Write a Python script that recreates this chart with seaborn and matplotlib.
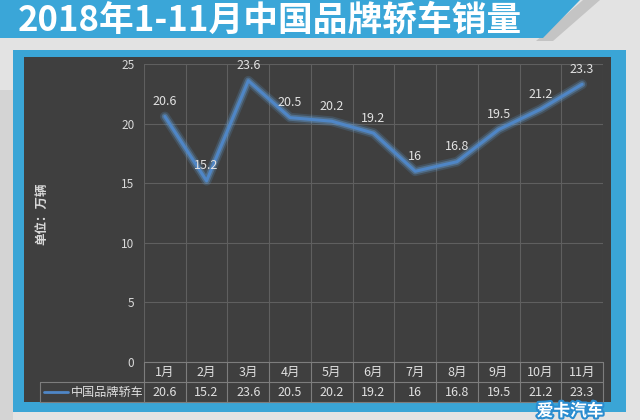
import numpy as np
import pandas as pd
import matplotlib
matplotlib.use("Agg")
import matplotlib.pyplot as plt
import seaborn as sns
from matplotlib.patches import Polygon, Rectangle
from matplotlib.lines import Line2D
import matplotlib.patheffects as pe
import matplotlib.transforms as mtransforms

# ---- data ----
months = ["1月", "2月", "3月", "4月", "5月", "6月", "7月", "8月", "9月", "10月", "11月"]
sales = [20.6, 15.2, 23.6, 20.5, 20.2, 19.2, 16, 16.8, 19.5, 21.2, 23.3]
series_name = "中国品牌轿车"
title = "2018年1-11月中国品牌轿车销量"
ylabel = "单位：万辆"
yticks = [0, 5, 10, 15, 20, 25]
watermark = "爱卡汽车"

sns.set_style("dark")
plt.rcParams['font.family'] = ['Noto Sans CJK SC', 'DejaVu Sans']

W, H = 640, 420
fig = plt.figure(figsize=(6.4, 4.2), dpi=100)
fig.patch.set_facecolor('#e3e3e3')

def fx(x):
    return x / W

def fy(y):
    return 1 - y / H

def rect(x0, y0, x1, y1, color, z, **kw):
    fig.patches.append(Rectangle((fx(x0), fy(y1)), fx(x1) - fx(x0), fy(y0) - fy(y1),
                                 transform=fig.transFigure, facecolor=color,
                                 edgecolor='none', zorder=z, **kw))

def poly(pts, color, z):
    fig.patches.append(Polygon([(fx(x), fy(y)) for x, y in pts], closed=True,
                               transform=fig.transFigure, facecolor=color,
                               edgecolor='none', zorder=z))

# background pieces
rect(0, 90, 13, 420, '#d4d4d4', -10, hatch='////')
# banner shadow + banner
poly([(583, 0), (600, 0), (553, 41), (536, 41)], '#c4c4c4', -9)
poly([(0, 0), (580, 0), (543, 38), (0, 38)], '#3aa6d8', -8)
# blue frame and dark area
rect(13, 50, 626, 412, '#3aa5d6', -7)
rect(24, 57, 611, 402, '#3f3f3f', -6)

fig.text(fx(18), fy(31), title, fontsize=25, fontweight='bold', color='white',
         ha='left', va='baseline')

# ---- axes ----
ax = fig.add_axes([fx(144), fy(362), fx(603) - fx(144), fy(64) - fy(362)])
ax.set_facecolor('#3f3f3f')
for s in ax.spines.values():
    s.set_visible(False)

df = pd.DataFrame({"pos": np.arange(len(months)), "sales": sales})
sns.lineplot(data=df, x="pos", y="sales", ax=ax, color='#4f86c6', linewidth=2.2,
             path_effects=[pe.Stroke(linewidth=7, foreground='#5b9bd5', alpha=0.2),
                           pe.Stroke(linewidth=4.5, foreground='#6aa6e0', alpha=0.35),
                           pe.Normal()])

for i, v in enumerate(sales):
    ax.annotate(f"{v:g}", (i, v), xytext=(0, 6), textcoords='offset points',
                ha='center', va='bottom', color='#e2e2e2', fontsize=9)

ax.set_xlim(-0.5, len(months) - 0.5)
ax.set_ylim(0, 25)
ax.set_yticks(yticks)
ax.set_xticks([])
ax.set_xticks(np.arange(-0.5, len(months), 1), minor=True)
ax.tick_params(axis='y', colors='#d9d9d9', labelsize=8.5, length=0, pad=7)
ax.tick_params(axis='x', which='both', length=0, labelbottom=False)
ax.grid(True, axis='y', which='major', color='#5f5f5f', linewidth=0.8)
ax.grid(True, axis='x', which='minor', color='#5f5f5f', linewidth=0.8)
ax.set_xlabel("")
ax.set_ylabel("")

fig.text(fx(42), fy(214), ylabel, rotation=90, ha='center', va='center',
         color='#d9d9d9', fontsize=9, fontweight='bold')

# ---- data table ----
blend = mtransforms.blended_transform_factory(ax.transData, fig.transFigure)
tcol = '#7d7d7d'
for yy, x0 in [(362, 144), (382, 40), (402, 40)]:
    fig.lines.append(Line2D([fx(x0), fx(603)], [fy(yy), fy(yy)], transform=fig.transFigure,
                            color=tcol, linewidth=0.8))
for b in np.arange(-0.5, len(months), 1):
    ax.plot([b, b], [fy(362), fy(402)], transform=blend, color=tcol, linewidth=0.8,
            clip_on=False)
fig.lines.append(Line2D([fx(40), fx(40)], [fy(382), fy(402)], transform=fig.transFigure,
                        color=tcol, linewidth=0.8))
for i, (m, v) in enumerate(zip(months, sales)):
    ax.text(i, fy(372), m, transform=blend, ha='center', va='center',
            color='#e0e0e0', fontsize=9)
    ax.text(i, fy(392), f"{v:g}", transform=blend, ha='center', va='center',
            color='#e0e0e0', fontsize=9)
fig.lines.append(Line2D([fx(44), fx(68)], [fy(392), fy(392)], transform=fig.transFigure,
                        color='#4f86c6', linewidth=2))
fig.text(fx(71), fy(392), series_name, ha='left', va='center', color='#e0e0e0', fontsize=8.7)

fig.text(fx(570), fy(411), watermark, ha='center', va='center', fontsize=12,
         fontweight='heavy', color='white',
         path_effects=[pe.withStroke(linewidth=3, foreground='#2a8ccf')])

fig.savefig("out.png", dpi=100)
